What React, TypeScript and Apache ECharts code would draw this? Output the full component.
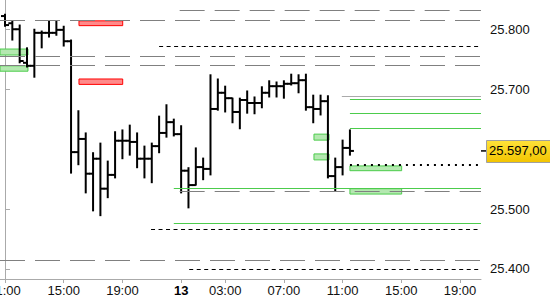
import React, { useEffect, useRef } from "react";
import * as echarts from "echarts";

// OHLC bars (30-minute slots, slot 0 = 11:00)
const opens = [25.822,25.810,25.800,25.744,25.739,25.794,25.794,25.794,25.799,25.780,25.595,25.617,25.559,25.584,25.534,25.557,25.614,25.614,25.612,25.584,25.584,25.605,25.627,25.645,25.625,25.564,25.540,25.570,25.567,25.667,25.694,25.685,25.662,25.682,25.677,25.677,25.694,25.705,25.705,25.709,25.710,25.715,25.670,25.667,25.680,25.555,25.570,25.602];
const highs = [25.825,25.814,25.807,25.769,25.800,25.797,25.814,25.814,25.805,25.782,25.664,25.627,25.594,25.610,25.580,25.629,25.632,25.640,25.627,25.605,25.610,25.655,25.674,25.650,25.639,25.569,25.602,25.585,25.724,25.717,25.705,25.685,25.685,25.697,25.687,25.704,25.714,25.712,25.714,25.725,25.724,25.725,25.690,25.690,25.689,25.585,25.615,25.632];
const lows = [25.805,25.782,25.744,25.737,25.720,25.769,25.787,25.790,25.772,25.560,25.574,25.527,25.497,25.489,25.519,25.552,25.584,25.590,25.569,25.552,25.544,25.594,25.620,25.622,25.527,25.502,25.540,25.549,25.557,25.665,25.662,25.644,25.634,25.660,25.659,25.669,25.687,25.687,25.685,25.707,25.694,25.665,25.644,25.657,25.552,25.530,25.557,25.590];
const closes = [25.807,25.800,25.747,25.739,25.794,25.794,25.794,25.799,25.780,25.595,25.617,25.559,25.584,25.534,25.557,25.614,25.614,25.612,25.584,25.584,25.605,25.627,25.645,25.625,25.564,25.540,25.570,25.567,25.667,25.694,25.685,25.662,25.682,25.677,25.677,25.694,25.705,25.705,25.709,25.710,25.715,25.670,25.667,25.680,25.555,25.570,25.602,25.597];

// axis ticks
const tickSlots = [0, 8, 16, 24, 30, 38, 46, 54, 62];
const tickLabels = ["11:00", "15:00", "19:00", "13", "03:00", "07:00", "11:00", "15:00", "19:00"];
const priceTicks = [25.4, 25.5, 25.7, 25.8];

// axis ranges (slot units / price)
const X_MIN = -0.681;
const X_MAX = 64.86;
const Y_MIN = 25.3833;
const Y_MAX = 25.8488;

// level lines: [price, fromSlot]
const grayDashLevels = [[25.832, 23.8], [25.815, X_MIN], [25.755, X_MIN], [25.74, X_MIN], [25.53, 23.8], [25.415, X_MIN]];
const blackDashLevels = [[25.772, 21.0], [25.467, 19.9], [25.4, 25.1]];
const dottedLevels = [[25.574, 47.0]];
const greenLevels = [[25.535, 23.0], [25.477, 23.0], [25.684, 47.0], [25.66, 47.0], [25.634, 47.0]];
const graySolidLevels = [[25.689, 45.9]];

// zones: [fromSlot, toSlot, priceTop, priceBottom]
const greenZones = [
  [X_MIN, 3.13, 25.767, 25.757],
  [X_MIN, 3.13, 25.739, 25.73],
  [42.1, 44.15, 25.625, 25.615],
  [42.1, 44.15, 25.592, 25.582],
  [47.0, 54.05, 25.572, 25.564],
  [47.0, 54.05, 25.534, 25.525],
];
const redZones = [
  [10.08, 16.04, 25.814, 25.806],
  [10.08, 16.04, 25.717, 25.708],
];

const FONT = "Liberation Sans";

export default function App() {
  const ref = useRef<HTMLDivElement>(null);

  useEffect(() => {
    if (!ref.current) return;
    const chart = echarts.init(ref.current, undefined, { renderer: "svg" });

    const barData = opens.map((o, i) => [i, o, highs[i], lows[i], closes[i]]);

    const mkLines = (levels: number[][], lineStyle: any) =>
      levels.map(([p, from]) => [
        { coord: [from, p], lineStyle },
        { coord: [X_MAX, p] },
      ]);

    const mkZones = (zones: number[][], itemStyle: any) =>
      zones.map(([x1, x2, y1, y2]) => [
        { coord: [x1, y1], itemStyle },
        { coord: [x2, y2] },
      ]);

    const lineData = [
      ...mkLines(grayDashLevels, { color: "#808080", width: 1, type: [25, 10] }),
      ...mkLines(blackDashLevels, { color: "#000", width: 1, type: [4, 3.5] }),
      ...mkLines(dottedLevels, { color: "#000", width: 2, type: [2, 5] }),
      ...mkLines(greenLevels, { color: "#4ccc4c", width: 1, type: "solid" }),
      ...mkLines(graySolidLevels, { color: "#aaaaaa", width: 1, type: "solid" }),
    ];

    const zoneData = [
      ...mkZones(greenZones, { color: "#b4e8b0", borderColor: "#4ccc4c", borderWidth: 1 }),
      ...mkZones(redZones, { color: "#ff8a8a", borderColor: "#ff0000", borderWidth: 1 }),
    ];

    chart.setOption({
      animation: false,
      grid: { left: 0, right: 69, top: 0, bottom: 21, containLabel: false, outerBoundsMode: "none" },
      xAxis: {
        type: "value",
        min: X_MIN,
        max: X_MAX,
        splitLine: { show: false },
        axisLine: { show: true, lineStyle: { color: "#aaaaaa" } },
        axisTick: { show: true, customValues: tickSlots, length: 4, lineStyle: { color: "#aaaaaa" } },
        axisLabel: {
          customValues: tickSlots,
          margin: 5,
          fontFamily: FONT,
          fontSize: 13,
          color: "#111",
          formatter: (v: number) => {
            const i = tickSlots.indexOf(Math.round(v));
            const t = i >= 0 ? tickLabels[i] : "";
            return t.indexOf(":") < 0 ? `{b|${t}}` : t;
          },
          rich: { b: { fontWeight: "bold", fontFamily: FONT, fontSize: 13, color: "#000" } },
        },
      },
      yAxis: {
        type: "value",
        position: "right",
        min: Y_MIN,
        max: Y_MAX,
        splitLine: { show: false },
        axisLine: { show: true, lineStyle: { color: "#aaaaaa" } },
        axisTick: { show: true, customValues: priceTicks, length: 5, lineStyle: { color: "#aaaaaa" } },
        axisLabel: {
          customValues: priceTicks,
          margin: 9,
          fontFamily: FONT,
          fontSize: 13,
          color: "#111",
          formatter: (v: number) => v.toFixed(3),
        },
      },
      series: [
        {
          type: "line",
          data: [],
          z: 1,
          silent: true,
          markArea: { silent: true, data: zoneData },
        },
        {
          type: "line",
          data: [],
          z: 2,
          silent: true,
          markLine: {
            silent: true,
            symbol: ["none", "none"],
            label: { show: false },
            data: lineData,
          },
        },
        {
          type: "custom",
          z: 3,
          silent: true,
          data: barData,
          encode: { x: 0, y: [1, 2, 3, 4] },
          renderItem: (params: any, api: any) => {
            const i = api.value(0);
            const pO = api.coord([i, api.value(1)]);
            const pH = api.coord([i, api.value(2)]);
            const pL = api.coord([i, api.value(3)]);
            const pC = api.coord([i, api.value(4)]);
            const x = pO[0];
            const st = { stroke: "#000", lineWidth: 2 };
            return {
              type: "group",
              children: [
                { type: "line", shape: { x1: x, y1: pH[1] - 0.5, x2: x, y2: pL[1] + 0.5 }, style: st },
                { type: "line", shape: { x1: x - 4, y1: pO[1], x2: x, y2: pO[1] }, style: st },
                { type: "line", shape: { x1: x, y1: pC[1], x2: x + 4, y2: pC[1] }, style: st },
              ],
            };
          },
        },
      ],
    });

    const last = closes[closes.length - 1];
    const y = chart.convertToPixel({ yAxisIndex: 0 }, last) as number;
    const axisX = chart.convertToPixel({ xAxisIndex: 0 }, X_MAX) as number;
    chart.setOption({
      graphic: [
        {
          type: "line",
          shape: { x1: axisX, y1: y, x2: axisX + 6, y2: y },
          style: { stroke: "#000", lineWidth: 1.5 },
          z: 10,
        },
        {
          type: "rect",
          shape: { x: axisX + 5.5, y: Math.round(y) - 10.5, width: 70, height: 22 },
          style: {
            fill: new echarts.graphic.LinearGradient(0, 0, 0, 1, [
              { offset: 0, color: "#ffe23a" },
              { offset: 1, color: "#f2c400" },
            ]),
            stroke: "#a0a0a0",
            lineWidth: 1,
          },
          z: 10,
        },
        {
          type: "text",
          x: axisX + 8,
          y: y,
          style: {
            text: `${last.toFixed(3)},00`,
            fill: "#000",
            font: `13px "${FONT}"`,
            textVerticalAlign: "middle",
            verticalAlign: "middle",
          },
          z: 11,
        },
      ],
    });

    return () => chart.dispose();
  }, []);

  return (
    <div
      ref={ref}
      style={{ position: "absolute", left: 0, top: 0, width: 550, height: 300, background: "#fff" }}
    />
  );
}
